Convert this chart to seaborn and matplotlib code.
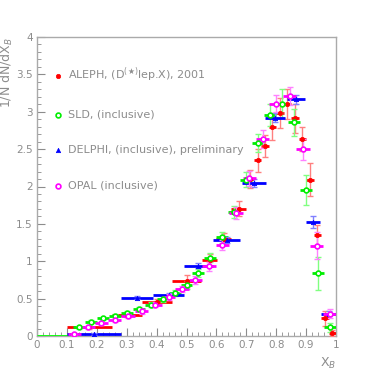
import numpy as np
import pandas as pd
import matplotlib
matplotlib.use("Agg")
import matplotlib.pyplot as plt
import seaborn as sns

# ALEPH (D(*) lep.X), 2001
aleph_x = [0.175, 0.30, 0.40, 0.50, 0.5775, 0.625, 0.675, 0.7125, 0.7375, 0.7625,
           0.7875, 0.8125, 0.8375, 0.8625, 0.8875, 0.9125, 0.9375, 0.9625, 0.9875]
aleph_y = [0.12, 0.28, 0.45, 0.74, 1.02, 1.30, 1.70, 2.10, 2.35, 2.54,
           2.80, 2.98, 3.10, 2.91, 2.64, 2.09, 1.35, 0.24, 0.04]
aleph_xe = [0.075, 0.05, 0.05, 0.05, 0.025, 0.025, 0.025, 0.0125, 0.0125, 0.0125,
            0.0125, 0.0125, 0.0125, 0.0125, 0.0125, 0.0125, 0.0125, 0.0125, 0.0125]
aleph_ye = [0.02, 0.03, 0.04, 0.08, 0.08, 0.08, 0.1, 0.12, 0.15, 0.15,
            0.18, 0.2, 0.2, 0.2, 0.16, 0.22, 0.13, 0.1, 0.04]

# SLD (inclusive)
sld_x = [0.02, 0.06, 0.10, 0.14, 0.18, 0.22, 0.26, 0.30, 0.34, 0.38, 0.42, 0.46,
         0.50, 0.54, 0.58, 0.62, 0.66, 0.70, 0.74, 0.78, 0.82, 0.86, 0.90, 0.94, 0.98]
sld_y = [0.0, 0.0, 0.0, 0.12, 0.19, 0.24, 0.27, 0.31, 0.36, 0.42, 0.49, 0.58,
         0.68, 0.84, 1.05, 1.32, 1.66, 2.09, 2.58, 2.96, 3.11, 2.86, 1.95, 0.84, 0.12]
sld_ye = [0.0, 0.0, 0.0, 0.02, 0.02, 0.02, 0.02, 0.03, 0.03, 0.03, 0.04, 0.04,
          0.05, 0.05, 0.06, 0.07, 0.08, 0.1, 0.12, 0.15, 0.2, 0.18, 0.2, 0.22, 0.06]

# DELPHI (inclusive), preliminary
delphi_x = [0.19, 0.335, 0.44, 0.54, 0.635, 0.725, 0.795, 0.865, 0.922, 0.975]
delphi_y = [0.03, 0.51, 0.55, 0.94, 1.28, 2.05, 2.92, 3.17, 1.53, 0.30]
delphi_xe = [0.09, 0.053, 0.053, 0.05, 0.045, 0.04, 0.033, 0.03, 0.023, 0.025]
delphi_ye = [0.01, 0.02, 0.02, 0.03, 0.04, 0.05, 0.06, 0.06, 0.08, 0.03]

# OPAL (inclusive)
opal_x = [0.125, 0.17, 0.215, 0.26, 0.305, 0.35, 0.395, 0.44, 0.485, 0.53,
          0.575, 0.62, 0.665, 0.71, 0.755, 0.80, 0.845, 0.89, 0.935, 0.98]
opal_y = [0.03, 0.115, 0.17, 0.21, 0.27, 0.33, 0.42, 0.52, 0.63, 0.75,
          0.93, 1.22, 1.64, 2.11, 2.63, 3.11, 3.21, 2.50, 1.21, 0.30]
opal_ye = [0.01, 0.02, 0.02, 0.02, 0.03, 0.03, 0.03, 0.04, 0.04, 0.05,
           0.06, 0.07, 0.08, 0.1, 0.12, 0.12, 0.12, 0.14, 0.18, 0.06]

sns.set_style("white")
plt.rcParams["font.family"] = ["DejaVu Sans"]
grey = "#8c8c8c"

fig = plt.figure(figsize=(3.74, 3.74), dpi=100)
ax = fig.add_axes([37 / 374, 38 / 374, 299 / 374, 299 / 374])


def draw(x, y, xe, ye, col, light, marker, filled, label, ms):
    ax.errorbar(x, y, xerr=xe, fmt="none", ecolor=col, elinewidth=2, capsize=0, zorder=3)
    ax.errorbar(x, y, yerr=ye, fmt="none", ecolor=light, elinewidth=1, capsize=2,
                capthick=1, zorder=3)
    df = pd.DataFrame({"x": x, "y": y})
    if filled:
        sns.scatterplot(data=df, x="x", y="y", ax=ax, marker=marker, color=col,
                        edgecolor=col, s=ms, linewidth=0.5, label=label, zorder=4)
    else:
        sns.scatterplot(data=df, x="x", y="y", ax=ax, marker=marker, facecolor="white",
                        edgecolor=col, s=ms, linewidth=1.2, label=label, zorder=4)


draw(aleph_x, aleph_y, aleph_xe, aleph_ye, "#ff0000", "#ff8080", "o", True,
     r"ALEPH, (D$^{(\bigstar)}$lep.X), 2001", 10)
ax.errorbar(sld_x[:3], sld_y[:3], xerr=0.02, fmt="none", ecolor="#00ff00", elinewidth=2, zorder=3)
draw(sld_x[3:], sld_y[3:], 0.02, sld_ye[3:], "#00ee00", "#80ff80", "o", False,
     "SLD, (inclusive)", 12)
draw(delphi_x, delphi_y, delphi_xe, delphi_ye, "#0000ff", "#8080ff", "^", True,
     "DELPHI, (inclusive), preliminary", 10)
draw(opal_x, opal_y, 0.0225, opal_ye, "#ff00ff", "#ff80ff", "o", False,
     "OPAL (inclusive)", 12)

ax.set_xlim(0, 1)
ax.set_ylim(0, 4)
ax.set_xticks(np.arange(0, 1.01, 0.1))
ax.set_xticklabels(["0", "0.1", "0.2", "0.3", "0.4", "0.5", "0.6", "0.7", "0.8", "0.9", "1"])
ax.set_yticks(np.arange(0, 4.01, 0.5))
ax.set_yticklabels(["0", "0.5", "1", "1.5", "2", "2.5", "3", "3.5", "4"])
ax.set_xticks(np.arange(0, 1.001, 0.02), minor=True)
ax.set_yticks(np.arange(0, 4.001, 0.1), minor=True)
ax.tick_params(which="both", direction="in", colors=grey, labelsize=7.5,
               top=False, right=False, bottom=True, left=True)
ax.tick_params(which="major", length=6, width=0.8, pad=3)
ax.tick_params(which="minor", length=3, width=0.6)
for s in ax.spines.values():
    s.set_color("#aaaaaa")
    s.set_linewidth(1)

ax.set_xlabel("X$_B$", loc="right", color=grey, fontsize=9)
ax.set_ylabel("1/N dN/dX$_B$", loc="top", color=grey, fontsize=9)
ax.yaxis.set_label_coords(-0.075, 1.0)

leg = ax.legend(loc="upper left", bbox_to_anchor=(0.045, 0.92), frameon=False,
                labelspacing=2.3, handlelength=0.6, handletextpad=0.6,
                fontsize=8, labelcolor=grey, borderaxespad=0)

fig.savefig("out.png", dpi=100)
